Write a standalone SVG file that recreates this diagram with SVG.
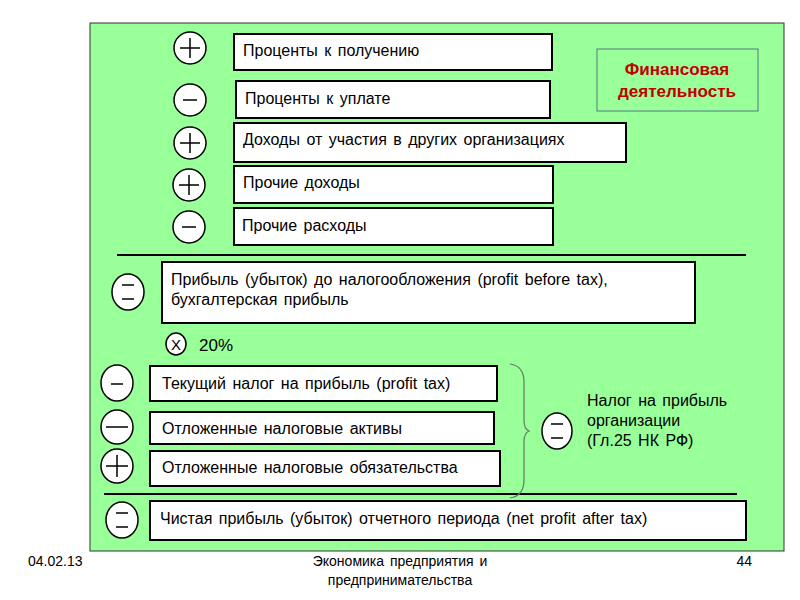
<svg xmlns="http://www.w3.org/2000/svg" width="800" height="600" viewBox="0 0 800 600">
<style>
text{font-family:"Liberation Sans",Arial,sans-serif;font-size:16px;fill:#000;word-spacing:2px}
.b{fill:#fff;stroke:#000;stroke-width:2}
.c{fill:#fff;stroke:#000;stroke-width:1.5}
.s{stroke:#000;stroke-width:1.5;fill:none}
</style>
<rect x="90" y="23" width="694" height="528" fill="#99ff99" stroke="#333" stroke-width="1"/>
<g id="fin"><rect x="597" y="49" width="161" height="62" fill="#99ff99" stroke="#557788" stroke-width="1"/>
<text x="677" y="75" text-anchor="middle" style="font-size:17px;font-weight:bold;fill:#c00000">Финансовая</text>
<text x="677" y="97" text-anchor="middle" style="font-size:17px;font-weight:bold;fill:#c00000">деятельность</text></g>
<g id="n1"><rect class="b" x="234" y="34" width="318" height="36"/><text x="243" y="56">Проценты к получению</text>
<circle class="c" cx="190" cy="48" r="16"/><path class="s" d="M180 48h20M190 38v20"/></g>
<g id="n2"><rect class="b" x="236" y="81" width="314" height="37"/><text x="245" y="104">Проценты к уплате</text>
<circle class="c" cx="190" cy="100" r="16"/><path class="s" d="M183 100h14"/></g>
<g id="n3"><rect class="b" x="234" y="123" width="392" height="39"/><text x="243" y="145">Доходы от участия в других организациях</text>
<circle class="c" cx="190" cy="143" r="16"/><path class="s" d="M180 143h20M190 133v20"/></g>
<g id="n4"><rect class="b" x="234" y="166" width="319" height="37"/><text x="243" y="188">Прочие доходы</text>
<circle class="c" cx="189" cy="185" r="16"/><path class="s" d="M179 185h20M189 175v20"/></g>
<g id="n5"><rect class="b" x="234" y="208" width="319" height="37"/><text x="242" y="231">Прочие расходы</text>
<circle class="c" cx="189" cy="227" r="16"/><path class="s" d="M182 227h14"/></g>
<g id="lines"><path stroke="#000" stroke-width="2" d="M117 255H746M104 494H737"/>
<path fill="none" stroke="#667766" stroke-width="1.2" d="M510 364q14 2 14 18v38q0 9 5 11q-5 2 -5 11v38q0 16-14 18"/></g>
<g id="n6"><rect class="b" x="162" y="262" width="533" height="61"/>
<text x="171" y="285">Прибыль  (убыток) до налогообложения  (profit before tax),</text>
<text x="171" y="305">бухгалтерская прибыль</text>
<ellipse class="c" cx="128" cy="292" rx="16" ry="18"/><path class="s" d="M122 285h12M122 299h12"/></g>
<g id="x20"><ellipse class="c" cx="176" cy="344" rx="10" ry="11"/><text x="176" y="350" text-anchor="middle" style="font-size:15px">X</text>
<text x="199" y="351" style="font-size:17px">20%</text></g>
<g id="n7"><rect class="b" x="150" y="366" width="347" height="35"/><text x="162" y="389">Текущий  налог на прибыль  (profit tax)</text>
<ellipse class="c" cx="117" cy="383" rx="16" ry="18"/><path class="s" d="M111 384h12"/></g>
<g id="n8"><rect class="b" x="150" y="412" width="344" height="32"/><text x="162" y="434">Отложенные  налоговые  активы</text>
<ellipse class="c" cx="117" cy="427" rx="16" ry="17"/><path class="s" d="M106 427h22"/></g>
<g id="n9"><rect class="b" x="150" y="451" width="350" height="35"/><text x="162" y="473">Отложенные  налоговые  обязательства</text>
<ellipse class="c" cx="117" cy="466" rx="16" ry="17"/><path class="s" d="M106 466h22M117 455v22"/></g>
<g id="tax"><ellipse class="c" cx="557" cy="431" rx="15" ry="18"/><path class="s" d="M551 424h12M551 438h12"/>
<text x="587" y="406">Налог на прибыль</text><text x="587" y="426">организации</text><text x="587" y="446">(Гл.25 НК РФ)</text></g>
<g id="n10"><rect class="b" x="150" y="501" width="596" height="39"/><text x="160" y="524">Чистая прибыль  (убыток) отчетного периода  (net profit after tax)</text>
<ellipse class="c" cx="122" cy="520" rx="16" ry="18"/><path class="s" d="M116 513h12M116 527h12"/></g>
<g id="footer"><text x="28" y="566" style="font-size:14px">04.02.13</text>
<text x="400" y="566" text-anchor="middle" style="font-size:14px">Экономика предприятия и</text>
<text x="400" y="585" text-anchor="middle" style="font-size:14px">предпринимательства</text>
<text x="752" y="566" text-anchor="end" style="font-size:14px">44</text></g>
</svg>
